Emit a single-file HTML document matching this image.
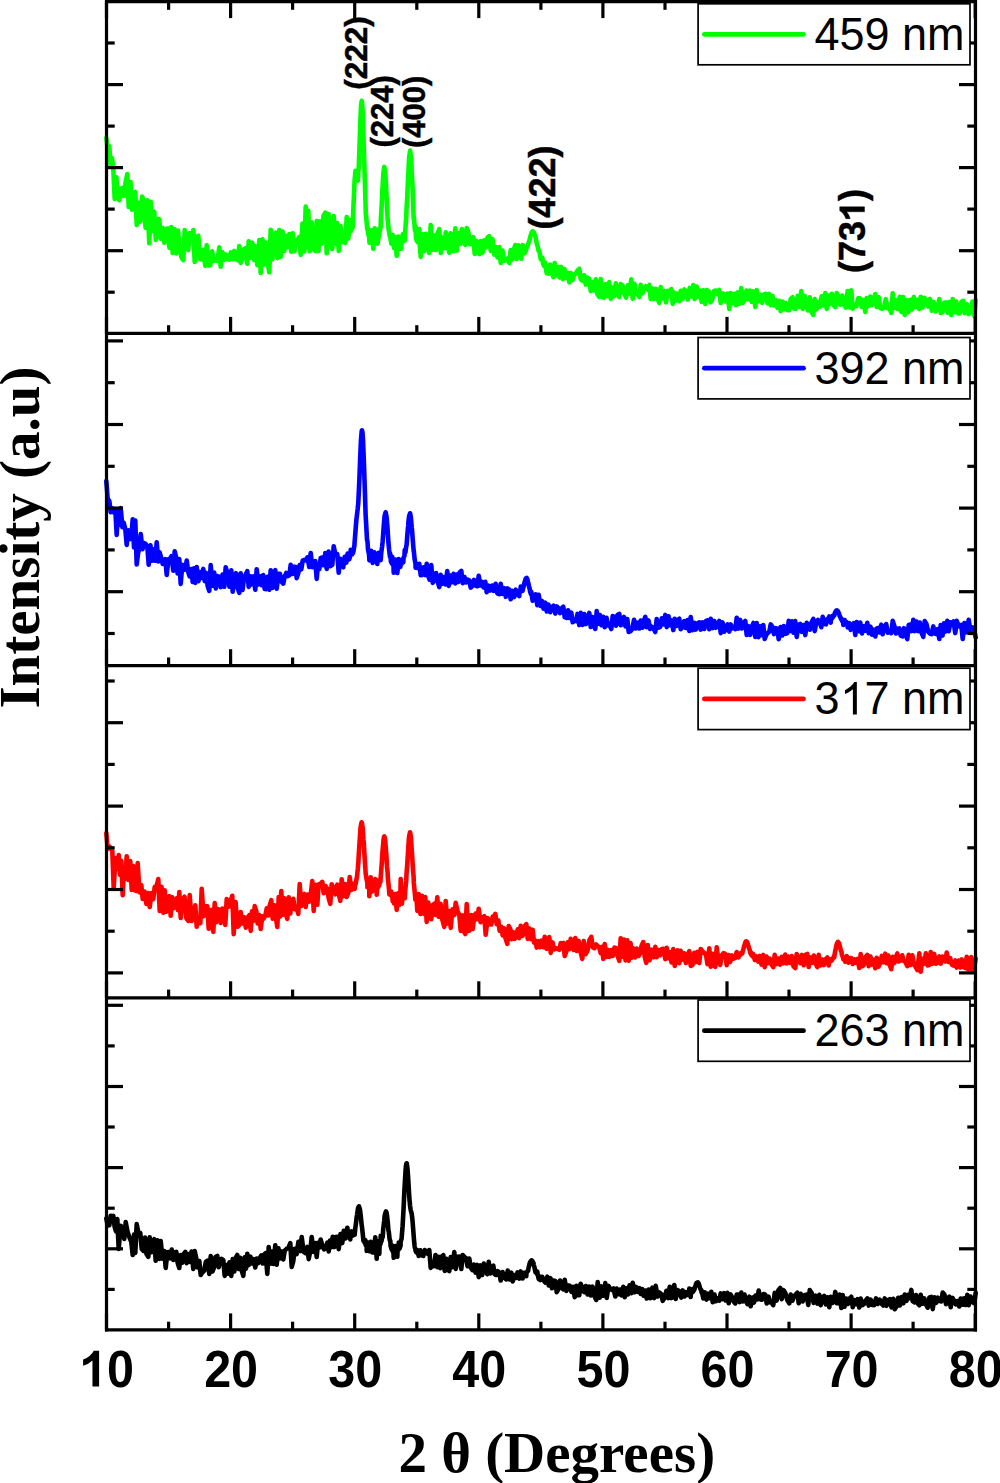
<!DOCTYPE html>
<html><head><meta charset="utf-8"><style>
html,body{margin:0;padding:0;background:#fff;width:1000px;height:1483px;overflow:hidden}
svg{display:block}
.leg{font-family:"Liberation Sans",sans-serif;font-size:45px;fill:#000}
.pl{font-family:"Liberation Sans",sans-serif;font-weight:bold;font-size:31px;fill:#000;stroke:#000;stroke-width:0.45px}
.tl{font-family:"Liberation Sans",sans-serif;font-weight:bold;font-size:48.5px;fill:#000}
.ti{font-family:"Liberation Serif",serif;font-weight:bold;font-size:57px;fill:#000}
</style></head><body>
<svg width="1000" height="1483" viewBox="0 0 1000 1483">
<rect width="1000" height="1483" fill="#fff"/>
<g fill="none" stroke-width="4.6" stroke-linejoin="round" stroke-linecap="round">
<path d="M106.3,137.9 L107.7,149.1 L109.3,146.2 L110.7,166.8 L112.0,158.0 L113.3,169.0 L114.7,199.0 L116.4,177.2 L117.7,195.9 L119.3,200.1 L120.7,188.9 L122.5,188.0 L124.0,196.0 L125.5,182.8 L127.3,174.0 L128.7,207.0 L130.5,182.0 L132.0,209.7 L133.5,193.3 L135.3,192.0 L136.7,225.0 L138.6,202.7 L140.3,221.7 L142.1,196.5 L143.9,201.1 L145.6,227.8 L147.4,200.3 L149.3,243.3 L150.7,201.7 L152.5,231.0 L154.2,211.5 L155.8,239.9 L157.5,218.9 L159.3,219.2 L160.7,238.8 L162.6,227.7 L164.3,242.7 L166.0,229.0 L167.7,228.3 L169.4,247.8 L171.3,227.1 L172.7,252.9 L174.6,229.4 L176.3,253.4 L178.0,230.5 L179.7,248.3 L181.4,257.0 L183.3,260.0 L184.7,230.0 L186.5,235.7 L188.2,250.1 L189.8,233.1 L191.5,237.9 L193.3,230.0 L194.7,262.0 L196.6,237.0 L198.3,235.8 L200.0,259.1 L201.7,259.5 L203.4,249.8 L205.3,265.8 L206.7,245.2 L208.6,265.4 L210.3,265.3 L212.1,251.4 L213.9,260.8 L215.6,260.0 L217.4,260.8 L219.3,247.2 L220.7,266.8 L222.5,252.4 L224.2,259.7 L225.8,254.5 L227.5,259.3 L229.3,259.6 L230.7,252.4 L232.5,259.2 L234.2,250.9 L235.8,259.0 L237.5,260.2 L239.3,246.1 L240.7,262.9 L242.5,258.9 L244.0,249.2 L245.5,248.2 L247.3,263.8 L248.7,241.2 L250.6,257.7 L252.3,242.9 L254.0,259.9 L255.7,246.3 L257.4,265.2 L259.3,240.0 L260.7,273.0 L262.5,239.4 L264.2,264.5 L265.8,242.5 L267.5,261.3 L269.3,272.3 L270.7,229.7 L272.5,259.2 L274.2,235.2 L275.8,232.6 L277.5,258.2 L279.3,230.1 L280.7,256.9 L282.6,231.5 L284.3,250.9 L286.0,235.7 L287.7,247.1 L289.4,234.0 L291.3,251.8 L292.7,233.2 L294.5,251.3 L296.0,240.6 L297.5,239.7 L299.3,237.1 L300.7,254.9 L302.5,223.5 L304.3,251.4 L305.7,206.6 L307.0,247.3 L308.3,210.7 L309.7,251.3 L311.6,222.3 L313.4,249.2 L315.3,251.0 L316.7,221.0 L318.5,251.2 L320.2,221.3 L321.8,243.6 L323.5,215.6 L325.3,212.7 L326.7,253.3 L328.6,214.1 L330.4,242.6 L332.3,249.0 L333.7,216.0 L335.5,243.4 L337.3,223.1 L338.7,250.9 L340.5,226.0 L342.0,242.1 L343.5,238.8 L345.3,242.9 L346.7,217.1 L348.3,238.5 L349.1,231.3 L349.6,220.4 L349.9,231.5 L350.7,231.3 L351.3,220.1 L351.5,229.7 L352.3,224.5 L352.5,222.4 L352.7,227.5 L353.1,213.5 L353.4,207.3 L353.9,196.7 L354.3,186.9 L354.6,180.4 L354.7,179.7 L355.3,172.2 L355.5,170.7 L356.2,172.1 L356.3,172.9 L356.5,173.8 L357.1,179.8 L357.1,179.8 L357.9,180.6 L358.0,179.7 L358.3,171.2 L358.7,168.9 L358.9,163.1 L359.5,146.9 L359.9,135.6 L360.2,123.9 L360.3,122.5 L360.8,110.6 L361.1,105.0 L361.7,100.8 L361.9,101.3 L362.1,102.7 L362.6,111.4 L363.5,138.1 L363.9,149.8 L364.5,170.5 L365.4,198.8 L365.8,213.4 L366.3,218.2 L367.2,229.1 L367.6,227.6 L368.1,234.2 L369.1,236.3 L369.5,242.8 L370.0,237.2 L370.9,237.6 L371.4,230.2 L373.3,248.8 L374.7,228.2 L375.5,239.1 L376.3,231.8 L376.4,239.4 L377.3,239.4 L377.6,243.6 L378.1,238.8 L379.0,236.5 L379.3,228.6 L379.9,231.0 L380.7,226.7 L380.8,220.4 L381.7,205.0 L382.5,187.3 L382.6,186.2 L383.4,172.7 L384.3,166.9 L384.3,166.9 L385.2,172.4 L386.0,184.6 L386.1,186.8 L386.9,204.3 L387.7,220.6 L387.8,219.6 L388.7,230.0 L389.4,233.0 L389.6,235.7 L390.5,238.2 L391.3,243.7 L391.3,239.1 L392.2,239.8 L392.7,234.7 L393.1,241.4 L394.0,247.9 L395.3,237.2 L396.7,255.8 L398.3,236.6 L399.6,248.9 L400.5,243.1 L401.3,248.8 L401.5,242.3 L402.4,241.5 L402.7,234.4 L403.4,240.3 L404.3,237.0 L404.6,240.9 L405.3,229.8 L406.3,216.7 L406.4,211.6 L407.2,197.6 L408.2,175.6 L408.3,174.6 L409.1,157.6 L410.1,150.6 L410.1,150.6 L411.1,157.7 L411.9,175.5 L412.0,175.9 L413.0,197.9 L413.7,219.2 L413.9,217.1 L414.9,230.3 L415.6,226.5 L415.9,237.6 L416.8,241.0 L417.4,238.0 L417.8,242.3 L418.7,242.8 L419.3,229.1 L419.7,243.0 L420.7,256.9 L422.5,234.3 L424.2,251.3 L425.8,233.9 L427.5,245.1 L429.3,252.9 L430.7,225.1 L432.5,249.6 L434.2,235.6 L435.8,250.1 L437.5,233.4 L439.3,229.1 L440.7,252.9 L442.5,237.5 L444.2,248.3 L445.8,232.4 L447.5,245.8 L449.3,252.8 L450.7,233.2 L452.3,238.1 L453.6,251.3 L455.3,228.2 L456.7,250.8 L458.5,233.1 L460.2,244.0 L461.8,229.0 L463.5,240.5 L465.3,244.9 L466.7,228.1 L468.5,233.1 L470.0,244.2 L471.5,239.7 L473.3,237.1 L474.7,253.9 L476.3,240.7 L477.6,253.0 L479.3,254.0 L480.7,241.0 L482.5,252.8 L484.2,240.4 L485.8,247.4 L487.5,237.5 L489.3,236.1 L490.7,250.9 L492.5,239.1 L494.2,254.6 L495.8,247.0 L497.5,257.4 L499.3,247.1 L500.7,262.9 L502.5,250.5 L504.2,260.8 L505.8,260.3 L507.5,258.4 L509.3,263.0 L510.7,250.0 L512.4,259.4 L513.6,250.5 L515.3,245.0 L516.7,259.0 L518.4,245.3 L519.0,252.0 L519.7,256.9 L520.4,252.0 L521.3,258.8 L521.8,251.9 L522.7,245.0 L523.2,251.9 L524.6,251.5 L524.6,253.4 L526.0,250.0 L526.4,247.5 L527.4,247.0 L528.3,243.5 L528.8,242.4 L530.1,237.9 L530.2,237.0 L531.6,232.7 L531.9,232.0 L533.0,231.3 L533.7,232.1 L534.4,233.6 L535.6,237.3 L535.8,238.9 L537.2,245.2 L537.4,245.1 L538.6,250.8 L539.3,250.6 L540.0,254.7 L540.7,259.1 L541.4,259.0 L542.4,257.8 L542.8,262.2 L543.7,265.6 L544.2,264.9 L545.3,262.8 L545.6,267.3 L546.7,273.2 L547.0,268.2 L548.5,273.7 L550.0,264.5 L551.5,272.4 L553.3,277.0 L554.7,263.0 L556.5,275.4 L558.0,267.1 L559.5,277.4 L561.3,266.9 L562.7,279.1 L564.5,269.1 L566.0,278.0 L567.5,272.8 L569.3,282.3 L570.7,272.7 L572.5,280.2 L574.2,274.4 L575.8,273.8 L577.5,270.5 L579.3,268.8 L580.7,279.2 L582.5,280.9 L584.2,275.2 L585.8,284.6 L587.5,277.7 L589.3,278.9 L590.7,291.1 L592.5,282.1 L594.2,290.6 L595.8,279.2 L597.5,294.4 L599.3,296.9 L600.7,279.1 L602.5,297.0 L604.2,297.6 L605.8,284.0 L607.5,296.1 L609.3,282.1 L610.7,298.9 L612.5,287.6 L614.2,296.2 L615.8,283.3 L617.5,294.1 L619.3,297.0 L620.7,284.0 L622.6,285.7 L624.3,293.8 L626.0,297.7 L627.7,285.3 L629.4,293.4 L631.3,279.2 L632.7,298.8 L634.5,283.7 L636.0,294.3 L637.5,293.4 L639.3,297.1 L640.7,284.9 L642.5,293.3 L644.2,288.5 L645.8,286.3 L647.5,289.5 L649.3,285.0 L650.7,299.0 L652.5,288.4 L654.2,299.1 L655.8,288.8 L657.5,298.6 L659.3,302.9 L660.7,287.1 L662.6,298.5 L664.3,290.9 L666.0,302.3 L667.7,290.7 L669.4,292.9 L671.3,289.1 L672.7,303.9 L674.5,292.5 L676.0,300.6 L677.5,293.8 L679.3,301.2 L680.7,290.8 L682.6,299.1 L684.4,289.4 L686.1,291.5 L687.9,299.6 L689.7,287.9 L691.4,296.4 L693.3,285.0 L694.7,299.0 L696.6,286.5 L698.3,296.7 L700.0,290.5 L701.7,302.0 L703.4,290.4 L705.3,304.0 L706.7,290.0 L708.6,291.2 L710.4,302.3 L712.1,300.1 L713.9,290.9 L715.7,290.5 L717.4,294.2 L719.3,290.0 L720.7,303.0 L722.5,293.4 L724.2,294.2 L725.8,301.4 L727.5,293.5 L729.3,308.9 L730.7,293.1 L732.6,303.1 L734.3,293.8 L736.0,305.3 L737.7,292.2 L739.4,303.8 L741.3,288.1 L742.7,302.9 L744.6,299.1 L746.4,290.5 L748.1,299.3 L749.9,290.6 L751.7,301.8 L753.4,291.2 L755.3,306.9 L756.7,290.1 L758.6,301.5 L760.4,294.8 L762.1,302.7 L763.9,294.4 L765.7,293.9 L767.4,303.2 L769.3,293.9 L770.7,305.1 L772.5,296.1 L774.2,305.5 L775.8,300.0 L777.5,307.8 L779.3,300.8 L780.7,311.2 L782.5,301.5 L784.2,309.3 L785.8,303.0 L787.5,310.2 L789.3,310.1 L790.7,298.9 L792.6,297.3 L794.3,308.8 L796.0,309.0 L797.7,295.7 L799.4,306.7 L801.3,291.1 L802.7,308.9 L804.6,295.9 L806.3,305.6 L808.0,310.4 L809.7,297.3 L811.4,311.5 L813.3,314.9 L814.7,299.1 L816.6,309.3 L818.3,302.1 L820.0,306.7 L821.7,296.2 L823.4,305.4 L825.3,293.1 L826.7,308.9 L828.5,295.5 L830.2,303.9 L831.8,293.7 L833.5,304.9 L835.3,307.0 L836.7,293.0 L838.6,296.5 L840.4,304.7 L842.2,295.5 L844.0,304.3 L845.8,307.6 L847.6,291.1 L849.4,307.5 L851.3,290.2 L852.7,308.8 L854.6,304.9 L856.4,306.1 L858.1,298.4 L859.9,298.3 L861.7,306.8 L863.4,299.8 L865.3,312.0 L866.7,298.0 L868.5,306.1 L870.2,296.6 L871.8,305.1 L873.5,299.3 L875.3,294.0 L876.7,307.0 L878.6,297.0 L880.4,308.1 L882.2,308.8 L884.0,307.6 L885.8,299.2 L887.6,308.3 L889.4,308.2 L891.3,312.8 L892.7,293.2 L894.6,308.0 L896.3,300.2 L898.0,309.2 L899.7,296.8 L901.4,311.9 L903.3,297.1 L904.7,314.9 L906.6,300.4 L908.4,312.2 L910.2,299.8 L912.0,309.4 L913.8,297.0 L915.6,307.3 L917.4,299.8 L919.3,309.1 L920.7,296.9 L922.6,307.5 L924.5,297.9 L926.3,300.4 L928.2,306.6 L930.0,298.9 L931.8,310.7 L933.7,302.1 L935.5,311.2 L937.4,308.4 L939.3,299.0 L940.7,313.0 L942.6,312.2 L944.3,302.7 L946.0,302.4 L947.7,312.7 L949.4,301.9 L951.3,314.9 L952.7,299.1 L954.6,312.1 L956.3,301.6 L958.0,313.4 L959.7,313.4 L961.4,301.8 L963.3,300.9 L964.7,313.1 L966.7,304.0 L968.6,314.0 L970.5,311.1 L972.4,301.5 L974.3,315.9 L975.7,300.1" stroke="#00ff00"/>
<path d="M106.3,481.1 L107.7,498.9 L109.3,500.9 L110.7,512.1 L112.4,508.3 L113.7,512.3 L115.3,509.1 L116.7,534.9 L118.0,510.6 L119.3,524.9 L120.7,508.1 L122.4,527.3 L123.7,522.8 L125.3,529.1 L126.7,544.9 L128.3,530.4 L129.7,539.1 L131.3,538.8 L132.7,519.2 L134.0,547.5 L135.3,520.6 L136.7,564.4 L138.0,553.4 L139.3,548.9 L140.7,534.1 L142.5,549.3 L144.0,543.0 L145.5,543.8 L147.3,546.2 L148.7,564.8 L150.5,545.4 L152.0,560.8 L153.5,549.2 L155.3,560.8 L156.7,542.2 L158.3,561.5 L159.6,552.4 L161.3,558.1 L162.7,563.9 L164.0,560.8 L165.3,559.1 L166.7,574.9 L168.5,559.1 L170.0,558.6 L171.5,556.1 L173.3,570.8 L174.7,551.2 L176.3,558.1 L177.6,573.5 L179.3,559.1 L180.7,583.9 L182.3,564.8 L183.6,570.0 L185.3,569.4 L186.7,560.6 L188.3,572.3 L189.6,576.4 L191.3,569.0 L192.7,582.0 L194.0,568.2 L195.3,582.9 L196.7,567.1 L198.5,581.1 L200.0,572.0 L201.5,577.8 L203.3,568.9 L204.7,581.1 L206.3,572.9 L207.6,585.8 L209.3,590.9 L210.7,565.1 L212.5,585.7 L214.2,572.6 L215.8,588.4 L217.5,576.0 L219.3,576.8 L220.7,587.2 L222.5,574.6 L224.3,586.8 L225.7,567.2 L227.6,573.8 L229.4,586.7 L231.3,570.2 L232.7,591.8 L234.5,576.3 L236.0,573.2 L237.5,587.5 L239.3,592.8 L240.7,573.2 L242.5,589.9 L244.0,578.0 L245.5,575.0 L247.3,571.1 L248.7,586.9 L250.5,576.3 L252.0,584.3 L253.5,576.4 L255.3,589.8 L256.7,569.2 L258.5,584.4 L260.0,576.3 L261.5,585.2 L263.3,575.0 L264.7,589.0 L266.3,589.1 L267.6,576.9 L269.3,589.8 L270.7,570.2 L272.3,587.9 L273.6,575.6 L275.3,570.2 L276.7,588.8 L278.5,573.8 L280.0,573.9 L281.5,581.7 L283.3,583.6 L284.7,576.4 L286.3,573.0 L287.6,576.1 L289.3,575.2 L290.7,564.8 L292.3,574.0 L293.6,566.8 L295.3,566.9 L296.7,578.1 L298.3,573.1 L299.6,565.1 L301.3,569.4 L302.7,560.6 L304.5,559.7 L306.0,560.6 L307.5,557.3 L309.3,567.0 L310.7,553.0 L312.3,567.3 L313.6,562.0 L315.3,561.1 L316.7,578.9 L318.0,564.6 L319.3,569.1 L320.7,557.9 L322.3,557.5 L323.6,565.3 L325.3,553.1 L326.7,568.9 L328.6,551.6 L330.4,566.1 L332.3,564.8 L333.7,546.2 L335.5,555.1 L337.3,554.2 L338.7,572.8 L340.3,558.7 L341.6,565.0 L343.3,567.2 L344.7,556.8 L346.3,562.6 L347.6,553.6 L349.3,559.3 L350.5,554.5 L350.7,549.7 L351.3,554.6 L352.0,554.4 L352.1,554.4 L352.6,551.7 L352.9,553.3 L353.0,553.0 L353.7,550.0 L354.0,548.0 L354.5,544.9 L354.5,543.4 L355.0,537.5 L355.3,533.5 L356.0,524.5 L356.1,523.4 L356.3,520.6 L356.9,515.5 L357.0,514.7 L357.7,508.7 L358.0,505.4 L358.2,504.3 L358.5,498.1 L359.0,488.2 L359.3,481.1 L360.0,462.8 L360.1,461.5 L360.1,460.2 L360.9,441.4 L361.0,439.6 L361.7,431.1 L361.9,430.3 L362.0,430.3 L362.5,432.8 L363.0,440.1 L363.8,459.6 L364.0,464.9 L365.0,495.1 L365.6,514.3 L366.0,521.4 L367.0,539.4 L367.5,541.7 L368.0,549.5 L369.0,554.2 L369.4,560.4 L370.0,556.0 L371.0,556.7 L371.3,550.9 L372.0,557.0 L372.7,563.0 L374.3,552.2 L375.6,560.4 L376.8,558.2 L377.3,564.0 L377.7,558.3 L378.6,558.4 L378.7,552.7 L379.4,558.1 L380.3,556.7 L380.7,560.2 L381.2,553.2 L382.1,546.5 L382.6,541.9 L383.0,536.6 L383.8,525.1 L384.5,516.9 L384.7,515.7 L385.6,512.3 L386.5,516.2 L386.5,516.5 L387.4,526.6 L388.2,538.8 L388.4,542.5 L389.1,549.6 L390.0,557.0 L390.3,553.9 L390.9,561.3 L391.8,563.5 L392.3,556.9 L392.6,564.5 L393.5,565.0 L393.7,572.8 L394.4,565.3 L395.5,559.6 L397.3,573.0 L398.7,559.0 L400.3,566.9 L400.8,562.3 L401.6,563.8 L401.7,561.0 L402.6,559.5 L403.3,562.3 L403.6,557.6 L404.5,555.6 L404.7,550.1 L405.4,552.4 L406.3,546.0 L406.6,545.1 L407.2,536.5 L408.2,525.4 L408.4,522.1 L409.1,516.4 L410.0,513.3 L410.2,513.6 L410.9,517.7 L411.8,528.0 L412.0,529.5 L412.8,540.4 L413.7,551.3 L413.8,550.6 L414.6,559.0 L415.5,563.5 L415.6,567.8 L416.4,566.0 L417.4,567.3 L417.4,565.7 L418.3,568.2 L419.2,568.9 L419.3,563.9 L420.7,575.1 L422.3,574.9 L423.6,567.2 L425.3,575.1 L426.7,563.9 L428.3,576.2 L429.6,579.6 L431.3,565.1 L432.7,582.9 L434.5,579.9 L436.0,573.0 L437.5,581.2 L439.3,587.1 L440.7,574.9 L442.5,583.8 L444.0,577.0 L445.5,584.4 L447.3,571.1 L448.7,585.9 L450.5,575.6 L452.0,582.3 L453.5,573.8 L455.3,583.4 L456.7,574.6 L458.3,582.0 L459.6,572.6 L461.3,570.9 L462.7,583.1 L464.5,577.0 L466.0,582.5 L467.5,579.6 L469.3,580.4 L470.7,587.6 L472.5,585.6 L474.0,579.9 L475.5,585.8 L477.3,586.2 L478.7,575.8 L480.5,585.5 L482.0,581.8 L483.5,587.4 L485.3,581.8 L486.7,592.2 L488.6,585.6 L490.3,590.5 L492.1,585.5 L493.9,590.9 L495.6,583.8 L497.4,593.3 L499.3,594.2 L500.7,583.8 L502.5,593.8 L504.2,588.2 L505.8,596.8 L507.5,588.4 L509.3,589.7 L510.7,599.3 L512.5,590.9 L514.2,597.1 L515.8,589.7 L517.5,594.7 L517.8,592.2 L518.7,591.9 L519.3,596.1 L519.6,591.5 L520.4,591.4 L520.7,586.6 L521.3,591.2 L522.2,590.3 L522.6,590.9 L523.1,588.3 L524.0,585.2 L524.3,583.2 L524.8,581.6 L525.7,578.8 L526.0,578.3 L526.6,577.9 L527.5,579.6 L527.7,580.8 L528.4,583.3 L529.2,587.6 L529.4,587.4 L530.1,591.5 L531.0,594.3 L531.3,591.7 L531.9,596.0 L532.7,600.8 L532.8,597.1 L533.6,597.7 L534.4,594.8 L534.5,598.2 L535.4,598.7 L535.7,594.2 L537.3,605.2 L538.7,594.8 L540.5,605.9 L542.0,601.0 L543.5,608.6 L545.3,602.6 L546.7,611.4 L548.5,604.7 L550.2,612.2 L551.8,607.2 L553.5,605.7 L555.3,613.6 L556.7,606.4 L558.5,608.4 L560.0,613.1 L561.5,608.4 L563.3,606.8 L564.7,617.2 L566.5,617.9 L568.0,610.3 L569.5,618.0 L571.3,612.7 L572.7,622.3 L574.5,620.8 L576.0,621.1 L577.5,613.9 L579.3,625.1 L580.7,612.9 L582.5,625.0 L584.2,614.0 L585.8,624.1 L587.5,617.1 L589.3,613.0 L590.7,627.0 L592.4,616.9 L593.7,624.5 L595.3,628.9 L596.7,611.1 L598.5,623.6 L600.0,615.1 L601.5,625.3 L603.3,616.8 L604.7,627.2 L606.5,617.8 L608.0,625.3 L609.5,625.0 L611.3,629.0 L612.7,616.0 L614.5,617.0 L616.0,625.7 L617.5,615.0 L619.3,613.9 L620.7,625.1 L622.5,624.2 L624.0,616.9 L625.5,626.5 L627.3,619.0 L628.7,632.0 L630.6,631.1 L632.3,628.9 L634.0,619.8 L635.7,628.5 L637.4,622.7 L639.3,628.5 L640.7,620.5 L642.4,627.7 L643.7,621.0 L645.3,616.8 L646.7,627.2 L648.5,620.4 L650.2,629.0 L651.8,626.8 L653.5,628.2 L655.3,632.0 L656.7,619.0 L658.5,627.7 L660.2,626.9 L661.8,618.3 L663.5,624.4 L665.3,614.9 L666.7,627.1 L668.5,616.2 L670.0,625.3 L671.5,620.4 L673.3,630.1 L674.7,618.9 L676.4,626.0 L677.7,620.1 L679.3,618.8 L680.7,629.2 L682.5,627.4 L684.2,621.2 L685.8,627.9 L687.5,620.0 L689.3,631.0 L690.7,617.0 L692.5,630.3 L694.2,622.8 L695.8,629.6 L697.5,623.3 L699.3,622.4 L700.7,629.6 L702.5,622.4 L704.2,629.0 L705.8,621.1 L707.5,620.3 L709.3,629.2 L710.7,618.8 L712.5,628.1 L714.2,621.1 L715.8,627.8 L717.5,624.0 L719.3,620.9 L720.7,633.1 L722.5,622.4 L724.2,631.7 L725.8,629.1 L727.5,624.4 L729.3,631.6 L730.7,624.4 L732.4,628.4 L733.7,628.0 L735.3,629.1 L736.7,617.9 L738.5,628.6 L740.2,619.9 L741.8,628.4 L743.5,623.3 L745.3,621.0 L746.7,635.0 L748.5,626.2 L750.2,634.8 L751.8,627.0 L753.5,623.0 L755.3,637.0 L756.7,623.0 L758.5,637.2 L760.0,626.4 L761.5,635.1 L763.3,625.0 L764.7,639.0 L766.4,634.5 L767.7,633.2 L769.3,631.6 L770.7,624.4 L772.5,627.1 L774.0,634.1 L775.5,628.2 L777.3,628.8 L778.7,639.2 L780.5,627.0 L782.2,635.5 L783.8,626.1 L785.5,633.8 L787.3,633.1 L788.7,620.9 L790.5,630.9 L792.0,621.2 L793.5,632.8 L795.3,621.1 L796.7,636.9 L798.5,625.3 L800.2,623.9 L801.8,631.8 L803.5,625.0 L805.3,635.1 L806.7,622.9 L808.5,625.5 L810.0,629.7 L811.5,622.6 L813.3,618.9 L814.7,631.1 L816.5,621.8 L818.0,619.9 L819.5,621.2 L821.3,627.2 L822.7,616.8 L824.5,624.0 L826.0,624.4 L826.6,620.8 L827.5,618.9 L827.6,620.6 L828.7,620.3 L829.3,616.4 L829.7,619.8 L830.7,622.6 L830.8,619.5 L831.8,618.9 L832.6,615.8 L832.8,617.5 L833.9,615.4 L834.4,615.3 L834.9,612.9 L836.0,610.9 L836.1,610.7 L837.0,610.3 L837.9,611.2 L838.0,611.4 L839.1,613.8 L839.7,616.2 L840.1,616.7 L841.2,619.3 L841.4,618.5 L842.2,621.1 L843.2,622.2 L843.3,625.0 L844.3,622.9 L844.7,620.1 L845.3,623.7 L846.4,622.0 L846.4,624.4 L847.4,625.0 L847.7,627.4 L849.3,623.2 L850.7,629.8 L852.4,625.3 L853.7,623.2 L855.3,635.0 L856.7,622.0 L858.6,631.2 L860.3,622.5 L862.0,633.4 L863.7,626.3 L865.4,630.7 L867.3,622.8 L868.7,633.2 L870.5,626.7 L872.0,634.7 L873.5,629.6 L875.3,636.5 L876.7,628.5 L878.4,628.0 L879.7,632.5 L881.3,624.7 L882.7,634.3 L884.5,627.0 L886.2,624.1 L887.8,632.7 L889.5,631.2 L891.3,633.1 L892.7,620.9 L894.5,626.5 L896.0,633.5 L897.5,628.8 L899.3,628.4 L900.7,635.6 L902.5,636.3 L904.0,628.2 L905.5,634.6 L907.3,639.0 L908.7,625.0 L910.4,624.5 L911.7,631.1 L913.3,619.9 L914.7,631.1 L916.5,621.6 L918.2,631.2 L919.8,622.6 L921.5,632.6 L923.3,636.9 L924.7,621.1 L926.5,624.1 L928.2,631.7 L929.8,633.5 L931.5,634.2 L933.3,626.4 L934.7,633.6 L936.4,634.1 L937.7,629.1 L939.3,639.0 L940.7,625.0 L942.5,635.6 L944.0,623.2 L945.5,631.6 L947.3,620.8 L948.7,631.2 L950.5,622.3 L952.0,623.3 L953.5,621.5 L955.3,633.1 L956.7,620.9 L958.4,625.3 L959.7,626.6 L961.3,625.0 L962.7,639.0 L964.4,623.1 L965.7,632.4 L967.3,631.1 L968.7,619.9 L970.6,631.9 L972.4,627.5 L974.3,630.4 L975.7,637.6" stroke="#0000ff"/>
<path d="M106.3,833.1 L107.7,848.9 L109.4,846.5 L110.7,848.1 L112.3,850.8 L113.7,888.2 L115.5,858.0 L117.3,869.0 L118.7,855.0 L120.0,874.9 L121.3,860.9 L122.7,895.1 L124.0,867.4 L125.3,878.8 L126.7,856.2 L128.5,880.0 L130.3,861.1 L131.7,889.9 L133.3,866.0 L134.6,890.1 L136.3,890.9 L137.7,863.1 L139.5,892.4 L141.3,885.0 L142.7,899.0 L144.6,891.5 L146.4,903.9 L148.3,893.0 L149.7,907.0 L151.5,893.1 L153.3,899.1 L154.7,886.9 L156.5,886.2 L158.3,879.0 L159.7,911.0 L161.5,886.7 L163.3,912.8 L164.7,890.2 L166.3,911.8 L167.6,900.4 L169.3,896.2 L170.7,915.8 L172.3,897.4 L173.6,908.1 L175.3,905.6 L176.7,898.4 L178.0,910.3 L179.3,892.1 L180.7,917.9 L182.6,900.0 L184.5,896.7 L186.4,918.4 L188.3,920.9 L189.7,895.1 L191.6,921.0 L193.4,917.3 L195.3,905.2 L196.7,926.8 L198.5,919.0 L200.3,923.1 L201.7,888.9 L203.6,916.3 L205.4,906.4 L207.3,906.2 L208.7,928.8 L210.3,923.7 L211.6,909.8 L213.3,931.9 L214.7,903.1 L216.3,922.1 L217.6,909.0 L219.3,910.0 L220.7,923.0 L222.3,908.5 L223.6,909.2 L225.3,924.9 L226.7,899.1 L228.6,906.7 L230.4,901.5 L232.3,895.8 L233.7,934.2 L235.6,902.1 L237.4,926.8 L239.3,925.0 L240.7,912.0 L242.5,923.5 L244.2,917.3 L245.8,927.7 L247.5,918.0 L249.3,915.1 L250.7,930.9 L252.0,911.4 L253.3,920.9 L254.7,906.1 L256.3,911.1 L257.6,923.5 L259.3,915.0 L260.7,929.0 L262.3,916.2 L263.6,918.7 L265.3,915.6 L266.7,908.4 L268.3,915.5 L269.6,905.8 L271.3,900.2 L272.7,918.8 L274.3,905.4 L275.6,916.0 L277.3,927.0 L278.7,897.0 L280.0,916.6 L281.3,891.1 L282.7,914.9 L284.3,898.4 L285.6,913.6 L287.3,918.8 L288.7,897.2 L290.3,913.5 L291.6,901.4 L293.3,898.8 L294.7,909.2 L296.5,907.3 L298.3,914.0 L299.7,884.0 L301.3,905.9 L302.6,896.3 L304.3,894.0 L305.7,907.0 L307.5,894.5 L309.3,901.6 L310.7,894.4 L312.3,881.0 L313.7,911.0 L315.5,884.9 L317.3,904.8 L318.7,884.2 L320.5,883.9 L322.3,881.9 L323.7,893.1 L325.5,886.0 L327.3,888.7 L328.7,898.3 L330.3,903.8 L331.7,884.2 L333.6,888.4 L335.4,894.3 L337.3,884.6 L338.7,893.4 L340.3,900.8 L341.7,879.2 L343.5,896.3 L345.3,884.0 L346.7,897.0 L348.3,892.9 L349.7,877.1 L351.5,890.0 L352.0,886.2 L353.0,886.5 L353.3,883.9 L353.9,886.6 L354.7,888.8 L354.9,885.7 L355.8,883.4 L356.6,878.4 L356.8,878.2 L357.8,869.0 L358.4,861.8 L358.7,855.5 L359.7,840.0 L360.2,832.2 L360.6,827.3 L361.6,822.3 L362.0,823.2 L362.6,827.3 L363.5,840.0 L363.8,843.0 L364.5,855.5 L365.4,869.0 L365.6,873.1 L366.4,878.2 L367.4,883.4 L367.4,887.2 L368.3,885.7 L369.3,886.6 L369.3,896.3 L370.2,886.9 L370.7,877.2 L371.2,887.0 L372.3,891.5 L373.6,883.0 L375.3,879.1 L375.6,887.0 L376.5,887.2 L376.7,894.7 L377.4,887.5 L378.2,887.2 L378.6,880.3 L379.1,885.7 L380.0,881.8 L380.4,881.9 L380.9,874.4 L381.8,863.3 L382.2,855.0 L382.6,850.5 L383.5,840.1 L384.0,836.9 L384.4,836.3 L385.3,841.1 L385.8,848.1 L386.2,852.6 L387.0,866.4 L387.6,872.3 L387.9,878.6 L388.8,887.1 L389.4,894.5 L389.7,892.0 L390.6,894.5 L391.3,891.4 L391.4,895.8 L392.3,896.9 L392.7,901.2 L393.2,898.1 L394.0,903.5 L395.3,894.1 L396.7,909.9 L398.0,893.4 L399.3,904.9 L400.4,892.7 L400.7,879.1 L401.4,894.4 L402.0,903.6 L402.3,895.9 L403.3,896.8 L403.3,892.7 L404.2,895.7 L404.7,898.3 L405.2,890.5 L406.2,880.9 L406.6,872.7 L407.1,866.8 L408.1,850.6 L408.3,846.9 L409.0,837.3 L410.0,832.3 L410.1,832.4 L411.0,837.8 L411.9,852.3 L411.9,851.6 L412.9,868.3 L413.6,876.4 L413.8,882.9 L414.8,892.9 L415.4,899.9 L415.8,898.6 L416.7,901.3 L417.3,910.9 L417.7,902.5 L418.6,903.4 L418.7,894.1 L419.6,904.3 L420.5,914.0 L422.0,895.9 L423.5,913.6 L425.3,897.1 L426.7,921.9 L428.3,902.5 L429.6,918.0 L431.3,919.0 L432.7,905.0 L434.3,903.7 L435.6,915.0 L437.3,897.2 L438.7,916.8 L440.6,903.8 L442.4,920.0 L444.3,926.9 L445.7,901.1 L447.5,923.5 L449.3,911.1 L450.7,927.9 L452.5,909.4 L454.3,915.1 L455.7,902.9 L457.5,910.8 L459.3,915.1 L460.7,930.9 L462.3,915.3 L463.6,930.4 L465.3,934.0 L466.7,904.0 L468.3,930.9 L469.6,930.6 L471.3,915.0 L472.7,929.0 L474.3,916.5 L475.6,913.7 L477.3,919.2 L478.7,908.8 L480.6,922.1 L482.4,918.0 L484.3,916.2 L485.7,934.8 L487.6,918.0 L489.4,924.2 L491.3,924.5 L492.7,916.5 L494.0,917.0 L495.3,913.8 L496.7,924.2 L498.3,920.3 L499.6,930.6 L501.3,926.6 L502.7,935.4 L504.3,928.4 L505.6,938.6 L507.3,943.9 L508.7,926.1 L510.3,929.1 L511.6,939.3 L513.3,932.2 L514.7,938.8 L516.4,936.0 L517.7,929.4 L519.3,938.1 L520.7,925.9 L522.6,935.9 L524.4,926.4 L526.3,924.1 L527.7,938.9 L529.5,928.4 L531.3,939.3 L532.7,929.7 L534.0,942.6 L535.3,940.4 L536.7,947.6 L538.5,941.2 L540.0,947.2 L541.5,940.7 L543.3,947.2 L544.7,936.8 L546.4,948.8 L547.7,947.0 L549.3,937.1 L550.7,952.9 L552.5,942.4 L554.2,949.4 L555.8,948.2 L557.5,948.9 L559.3,949.8 L560.7,943.2 L562.0,943.8 L563.3,943.0 L564.7,956.0 L566.4,951.2 L567.7,942.2 L569.3,949.2 L570.7,938.8 L572.4,947.9 L573.7,949.9 L575.3,938.0 L576.7,951.0 L578.6,940.9 L580.4,951.1 L582.3,958.9 L583.7,941.1 L585.6,954.3 L587.5,950.7 L589.4,940.2 L591.3,936.8 L592.7,947.2 L594.5,948.2 L596.0,944.5 L597.5,945.7 L599.3,947.9 L600.7,953.1 L602.0,946.8 L603.3,958.9 L604.7,944.1 L606.5,956.9 L608.0,949.9 L609.5,956.8 L611.3,950.1 L612.7,955.9 L614.5,947.6 L616.0,948.0 L617.5,955.6 L619.3,960.8 L620.7,938.2 L622.5,956.7 L624.0,939.6 L625.5,960.4 L627.3,940.2 L628.7,960.8 L630.5,943.1 L632.0,957.7 L633.5,948.4 L635.3,957.4 L636.7,948.6 L638.5,955.9 L640.0,953.7 L641.5,945.9 L643.3,942.1 L644.7,956.9 L646.3,962.9 L647.7,945.1 L649.6,960.3 L651.5,949.7 L653.4,957.3 L655.3,946.8 L656.7,957.2 L658.5,949.9 L660.2,955.2 L661.8,949.0 L663.5,948.8 L665.3,959.1 L666.7,947.9 L668.5,958.1 L670.0,952.2 L671.5,962.4 L673.3,949.1 L674.7,965.9 L676.4,953.3 L677.7,950.4 L679.3,963.1 L680.7,950.9 L682.5,959.6 L684.2,953.3 L685.8,963.0 L687.5,955.7 L689.3,951.1 L690.7,965.9 L692.5,965.0 L694.2,952.9 L695.8,962.1 L697.5,951.9 L699.3,963.0 L700.7,949.0 L702.5,951.4 L704.2,953.2 L705.8,953.7 L707.5,964.1 L709.3,948.2 L710.7,966.8 L712.4,953.7 L713.7,965.4 L715.3,966.8 L716.7,947.2 L718.5,960.6 L720.2,964.9 L721.8,955.2 L723.5,953.2 L725.3,953.9 L726.7,965.1 L728.5,955.0 L730.2,962.0 L731.8,955.4 L733.5,958.7 L735.3,957.9 L736.7,952.1 L736.8,955.1 L737.8,955.2 L738.6,957.3 L738.7,955.2 L739.7,955.1 L740.4,953.5 L740.6,954.7 L741.6,953.6 L742.3,953.3 L742.6,951.6 L743.5,948.6 L744.1,946.1 L744.5,945.2 L745.4,942.3 L745.9,941.5 L746.4,941.3 L747.4,942.5 L747.7,943.8 L748.3,945.6 L749.3,949.2 L749.6,949.5 L750.2,952.5 L751.2,954.7 L751.4,952.8 L752.2,956.0 L753.1,956.6 L753.3,954.0 L754.1,956.9 L754.7,959.9 L755.0,957.4 L756.0,957.8 L756.5,956.5 L758.2,961.6 L759.8,955.9 L761.5,964.6 L763.3,954.9 L764.7,967.1 L766.5,956.5 L768.2,963.1 L769.8,958.7 L771.5,964.4 L773.3,967.1 L774.7,954.9 L776.6,964.1 L778.3,958.5 L780.0,964.7 L781.7,956.8 L783.4,963.3 L785.3,954.6 L786.7,963.4 L788.5,956.6 L790.2,963.0 L791.8,956.0 L793.5,966.4 L795.3,968.0 L796.7,954.0 L798.6,958.6 L800.3,963.1 L802.0,954.9 L803.7,965.3 L805.4,954.9 L807.3,954.0 L808.7,967.0 L810.5,957.4 L812.2,962.8 L813.8,955.5 L815.5,963.3 L817.3,967.1 L818.7,954.9 L820.5,965.5 L822.2,959.5 L823.8,965.1 L825.5,959.4 L827.3,957.5 L828.4,961.4 L828.7,965.5 L829.4,961.3 L830.3,961.1 L830.6,959.2 L831.3,960.7 L832.2,959.9 L832.4,958.6 L833.2,958.3 L834.2,955.6 L834.3,957.2 L835.1,951.6 L836.1,947.2 L836.1,946.7 L837.0,943.4 L837.9,941.9 L838.0,941.9 L839.0,943.2 L839.7,945.6 L839.9,946.6 L840.9,950.8 L841.6,951.9 L841.8,954.5 L842.8,957.0 L843.4,959.4 L843.8,958.3 L844.7,958.8 L845.3,961.7 L845.7,958.9 L846.6,959.2 L846.7,956.1 L847.6,959.5 L848.4,962.7 L849.7,958.3 L851.3,958.1 L852.7,963.9 L854.5,959.4 L856.0,962.7 L857.5,958.8 L859.3,968.0 L860.7,954.0 L862.5,966.3 L864.0,964.4 L865.5,957.2 L867.3,954.9 L868.7,966.1 L870.5,956.6 L872.0,964.6 L873.5,959.8 L875.3,968.2 L876.7,957.8 L878.5,966.7 L880.2,962.9 L881.8,955.9 L883.5,962.3 L885.3,953.7 L886.7,963.3 L888.4,955.5 L889.7,964.9 L891.3,969.1 L892.7,956.9 L894.4,963.1 L895.7,957.4 L897.3,953.5 L898.7,961.5 L900.5,960.7 L902.2,955.3 L903.8,961.0 L905.5,962.0 L907.3,966.1 L908.7,954.9 L910.6,965.0 L912.3,955.3 L914.0,964.0 L915.7,967.1 L917.4,970.0 L919.3,953.2 L920.7,971.8 L922.5,958.7 L924.2,963.6 L925.8,953.3 L927.5,965.4 L929.3,965.0 L930.7,952.0 L932.5,963.8 L934.2,953.9 L935.8,963.7 L937.5,962.7 L939.3,956.4 L940.7,963.6 L942.4,956.5 L943.7,960.0 L945.3,961.4 L946.7,952.6 L948.5,961.9 L950.2,958.1 L951.8,964.5 L953.5,965.6 L955.3,960.4 L956.7,967.6 L958.5,960.6 L960.2,967.5 L961.8,959.4 L963.5,967.1 L965.3,968.1 L966.7,956.9 L968.4,969.4 L969.7,959.2 L971.3,957.1 L972.7,971.9 L974.3,967.4 L975.7,958.6" stroke="#ff0000"/>
<path d="M106.3,1218.4 L107.7,1225.6 L109.3,1225.3 L110.7,1215.7 L112.0,1217.6 L113.3,1215.9 L114.7,1227.1 L116.0,1231.4 L117.3,1219.0 L118.7,1249.0 L120.6,1225.7 L122.4,1227.2 L124.3,1238.9 L125.7,1222.1 L127.6,1232.0 L129.4,1237.3 L131.3,1242.0 L132.7,1255.0 L134.0,1234.6 L135.3,1252.9 L136.7,1224.1 L138.5,1233.5 L140.3,1233.1 L141.7,1248.9 L143.5,1250.9 L145.0,1237.6 L146.5,1254.0 L148.3,1256.8 L149.7,1237.2 L151.3,1252.2 L152.6,1242.1 L154.3,1239.2 L155.7,1260.8 L157.5,1240.4 L159.3,1258.9 L160.7,1241.1 L162.5,1258.7 L164.3,1251.1 L165.7,1267.9 L167.3,1252.3 L168.6,1252.0 L170.3,1258.4 L171.7,1249.6 L173.3,1260.0 L174.6,1252.2 L176.3,1251.9 L177.7,1263.1 L179.3,1268.0 L180.7,1255.0 L182.3,1262.7 L183.6,1254.1 L185.3,1251.9 L186.7,1263.1 L188.5,1254.2 L190.0,1261.8 L191.5,1251.6 L193.3,1268.9 L194.7,1251.1 L196.3,1258.5 L197.6,1267.4 L199.3,1261.0 L200.7,1275.0 L202.5,1272.3 L204.2,1270.6 L205.8,1261.9 L207.5,1260.7 L209.3,1273.9 L210.7,1256.1 L212.5,1271.5 L214.0,1267.4 L215.5,1256.9 L217.3,1255.9 L218.7,1267.1 L220.3,1260.3 L221.6,1258.9 L223.3,1260.1 L224.7,1275.9 L226.5,1265.0 L228.0,1273.7 L229.5,1262.3 L231.3,1275.9 L232.7,1259.1 L234.3,1271.5 L235.6,1258.2 L237.3,1255.0 L238.7,1269.0 L240.3,1257.8 L241.6,1270.2 L243.3,1275.8 L244.7,1257.2 L246.0,1268.6 L247.3,1253.9 L248.7,1265.1 L250.5,1256.7 L252.0,1263.5 L253.5,1259.2 L255.3,1267.4 L256.7,1258.6 L258.3,1263.2 L259.6,1258.2 L261.3,1255.5 L262.7,1263.5 L264.3,1254.4 L265.6,1253.2 L267.3,1273.9 L268.7,1247.1 L270.5,1263.8 L272.0,1251.6 L273.5,1263.9 L275.3,1245.2 L276.7,1264.8 L278.5,1248.3 L280.0,1258.5 L281.5,1251.4 L283.3,1259.4 L284.7,1250.6 L286.6,1248.8 L288.4,1248.3 L290.3,1243.1 L291.7,1266.9 L293.3,1261.1 L294.7,1248.9 L296.6,1254.1 L298.4,1241.9 L300.3,1251.0 L301.7,1237.0 L303.6,1251.9 L305.4,1253.1 L307.3,1246.9 L308.7,1259.1 L310.3,1251.0 L311.7,1237.0 L313.5,1252.0 L315.3,1243.0 L316.7,1257.0 L318.0,1242.7 L319.3,1247.5 L320.7,1239.5 L322.5,1246.1 L324.0,1249.3 L325.5,1248.3 L327.3,1242.6 L328.7,1251.4 L330.0,1240.5 L331.3,1247.2 L332.7,1236.8 L334.3,1247.1 L335.6,1237.1 L337.3,1236.9 L338.7,1249.1 L340.5,1234.1 L342.3,1243.1 L343.7,1230.9 L345.5,1238.4 L347.3,1227.7 L348.7,1237.3 L349.4,1233.8 L350.3,1239.5 L350.4,1234.6 L351.3,1235.3 L351.6,1231.2 L352.3,1235.7 L353.2,1235.3 L353.3,1231.3 L354.2,1233.4 L354.7,1234.7 L355.2,1229.0 L356.1,1222.4 L356.6,1217.4 L357.1,1214.6 L358.0,1208.4 L358.3,1207.5 L359.0,1206.3 L360.0,1209.6 L360.0,1209.7 L360.9,1217.2 L361.7,1225.4 L361.9,1226.2 L362.8,1234.2 L363.4,1240.9 L363.8,1239.8 L364.8,1243.2 L365.3,1240.0 L365.7,1245.1 L366.7,1245.9 L366.7,1250.9 L367.6,1246.2 L368.0,1242.5 L368.6,1246.3 L369.3,1251.3 L370.7,1241.7 L372.3,1252.4 L373.6,1252.4 L375.3,1237.2 L376.7,1258.8 L376.8,1247.6 L377.7,1247.1 L378.0,1241.5 L378.6,1246.5 L379.3,1254.0 L379.6,1245.5 L380.5,1244.1 L380.7,1235.7 L381.4,1241.6 L382.3,1236.7 L382.7,1237.1 L383.2,1229.3 L384.2,1220.7 L384.6,1216.2 L385.1,1213.8 L386.0,1211.3 L386.5,1212.5 L386.9,1214.6 L387.8,1222.4 L388.4,1230.2 L388.8,1231.8 L389.7,1240.0 L390.3,1240.8 L390.6,1245.8 L391.5,1249.2 L392.3,1245.4 L392.4,1251.0 L393.4,1251.6 L393.7,1257.8 L394.3,1251.4 L395.2,1251.1 L395.5,1246.0 L396.6,1250.5 L397.3,1256.8 L397.6,1250.0 L398.6,1249.6 L398.7,1242.6 L399.6,1248.5 L400.6,1245.5 L400.6,1241.7 L401.6,1238.6 L402.5,1227.0 L402.6,1226.2 L403.6,1208.0 L404.3,1192.4 L404.6,1187.1 L405.6,1169.9 L406.0,1165.7 L406.2,1164.6 L406.6,1163.3 L406.8,1163.5 L407.6,1169.8 L407.6,1169.8 L408.0,1175.7 L408.4,1182.1 L408.6,1185.6 L409.2,1195.6 L409.6,1201.2 L409.8,1202.2 L410.0,1205.5 L410.6,1209.4 L410.8,1210.3 L411.6,1213.3 L411.6,1213.3 L411.7,1213.8 L412.4,1219.4 L412.6,1221.6 L413.2,1229.4 L413.5,1233.4 L413.6,1234.9 L414.0,1239.9 L414.6,1245.8 L414.8,1247.2 L415.4,1249.1 L415.6,1250.9 L415.6,1250.9 L416.4,1252.3 L416.6,1252.5 L417.2,1252.8 L417.3,1250.0 L418.0,1253.0 L418.7,1255.9 L420.3,1250.3 L421.6,1255.3 L423.3,1255.9 L424.7,1250.1 L426.3,1251.2 L427.6,1253.7 L429.3,1250.1 L430.7,1267.9 L432.5,1265.0 L434.0,1266.0 L435.5,1255.0 L437.3,1267.2 L438.7,1256.8 L440.3,1268.1 L441.6,1256.6 L443.3,1255.1 L444.7,1270.9 L446.3,1258.7 L447.6,1269.9 L449.3,1271.0 L450.7,1257.0 L452.5,1267.1 L454.3,1252.1 L455.7,1268.9 L457.6,1256.7 L459.4,1256.5 L461.3,1269.0 L462.7,1255.0 L464.5,1257.1 L466.0,1258.0 L467.5,1266.2 L469.3,1258.6 L470.7,1267.4 L472.5,1270.1 L474.0,1264.5 L475.5,1272.6 L477.3,1264.9 L478.7,1277.1 L480.5,1265.4 L482.2,1275.1 L483.8,1263.5 L485.5,1270.7 L487.3,1274.1 L488.7,1261.9 L490.3,1273.5 L491.6,1266.8 L493.3,1265.6 L494.7,1274.4 L496.3,1275.0 L497.6,1271.1 L499.3,1272.5 L500.7,1280.5 L502.6,1272.1 L504.4,1278.0 L506.3,1279.4 L507.7,1270.6 L509.5,1279.4 L511.3,1272.6 L512.7,1281.4 L514.5,1275.1 L516.0,1277.9 L517.5,1272.4 L519.3,1278.6 L520.7,1271.4 L521.2,1275.1 L522.2,1275.1 L522.6,1278.5 L523.3,1275.1 L524.3,1274.9 L524.4,1272.9 L525.4,1274.4 L526.3,1276.2 L526.4,1273.3 L527.4,1271.1 L528.1,1271.0 L528.5,1268.0 L529.5,1264.4 L529.9,1262.6 L530.6,1261.4 L531.6,1260.3 L531.7,1260.3 L532.6,1261.5 L533.6,1263.6 L533.7,1264.6 L534.7,1268.3 L535.4,1272.0 L535.8,1271.6 L536.8,1273.9 L537.3,1271.6 L537.8,1275.1 L538.7,1279.1 L538.9,1276.1 L539.9,1276.9 L540.5,1280.1 L541.0,1277.5 L542.0,1278.0 L542.2,1276.8 L543.8,1280.7 L545.5,1282.6 L547.3,1276.6 L548.7,1285.4 L550.5,1278.2 L552.0,1288.3 L553.5,1280.5 L555.3,1280.9 L556.7,1292.1 L558.5,1289.1 L560.0,1280.5 L561.5,1286.9 L563.3,1289.3 L564.7,1279.7 L566.5,1290.9 L568.2,1285.4 L569.8,1285.7 L571.5,1291.9 L573.3,1286.8 L574.7,1297.2 L576.4,1285.7 L577.7,1295.1 L579.3,1295.1 L580.7,1283.9 L582.5,1288.3 L584.2,1292.2 L585.8,1286.0 L587.5,1294.4 L589.3,1286.6 L590.7,1295.4 L592.6,1286.7 L594.4,1295.9 L596.3,1299.9 L597.7,1282.1 L599.6,1297.8 L601.5,1286.4 L603.4,1295.7 L605.3,1283.1 L606.7,1297.9 L608.5,1285.9 L610.2,1288.8 L611.8,1290.0 L613.5,1288.5 L615.3,1296.5 L616.7,1288.5 L618.5,1294.2 L620.0,1289.5 L621.5,1295.3 L623.3,1286.8 L624.7,1297.2 L626.5,1288.3 L628.0,1294.5 L629.5,1285.3 L631.3,1293.2 L632.7,1282.8 L634.5,1292.3 L636.0,1286.9 L637.5,1291.9 L639.3,1288.1 L640.7,1293.9 L642.4,1289.2 L643.7,1295.7 L645.3,1290.5 L646.7,1298.5 L648.6,1289.5 L650.5,1298.2 L652.4,1287.7 L654.3,1298.1 L655.7,1285.9 L657.6,1296.5 L659.4,1292.5 L661.3,1294.2 L662.7,1300.8 L664.6,1297.8 L666.4,1290.8 L668.3,1298.1 L669.7,1286.9 L671.4,1298.1 L672.7,1290.3 L674.3,1285.0 L675.7,1299.0 L677.6,1290.1 L679.4,1291.4 L681.3,1297.6 L682.7,1290.4 L684.5,1296.5 L686.0,1292.1 L687.5,1294.9 L688.0,1293.2 L689.0,1293.1 L689.3,1288.6 L689.9,1292.9 L690.7,1297.0 L690.9,1292.9 L691.8,1292.7 L692.6,1289.0 L692.8,1291.9 L693.8,1290.4 L694.4,1289.7 L694.7,1288.0 L695.7,1285.3 L696.1,1283.6 L696.6,1283.0 L697.6,1282.3 L697.9,1282.4 L698.6,1283.5 L699.5,1286.1 L699.7,1287.0 L700.5,1289.2 L701.4,1290.1 L701.4,1292.0 L702.4,1294.0 L703.3,1298.4 L703.4,1295.2 L704.3,1295.8 L704.7,1292.4 L705.3,1296.1 L706.2,1296.3 L706.5,1299.6 L707.2,1296.4 L708.0,1293.6 L709.5,1298.2 L711.3,1291.8 L712.7,1302.2 L714.5,1294.5 L716.0,1301.2 L717.5,1298.4 L719.3,1300.6 L720.7,1293.4 L722.5,1299.1 L724.0,1293.2 L725.5,1300.4 L727.3,1292.8 L728.7,1303.2 L730.5,1294.4 L732.0,1296.9 L733.5,1301.3 L735.3,1303.4 L736.7,1294.6 L738.4,1294.6 L739.7,1302.1 L741.3,1292.6 L742.7,1301.4 L744.5,1294.5 L746.0,1301.5 L747.5,1304.2 L749.3,1296.7 L750.7,1306.3 L752.5,1297.6 L754.0,1302.6 L755.5,1295.5 L757.3,1299.4 L758.7,1290.6 L760.5,1299.4 L762.0,1299.7 L763.5,1294.0 L765.3,1294.6 L766.7,1303.4 L768.5,1296.6 L770.0,1302.4 L771.5,1302.4 L773.3,1305.1 L774.7,1292.9 L776.6,1300.6 L778.4,1290.2 L780.3,1287.9 L781.7,1299.1 L783.6,1290.2 L785.5,1293.5 L787.4,1300.3 L789.3,1303.4 L790.7,1294.6 L792.5,1300.7 L794.0,1295.8 L795.5,1294.8 L797.3,1292.8 L798.7,1303.2 L800.7,1293.8 L802.6,1301.5 L804.5,1295.3 L806.4,1294.7 L808.3,1304.9 L809.7,1290.1 L811.7,1293.0 L813.6,1302.9 L815.5,1295.7 L817.4,1303.6 L819.3,1294.8 L820.7,1305.2 L822.5,1297.7 L824.2,1295.9 L825.8,1304.4 L827.5,1297.3 L829.3,1307.2 L830.7,1296.8 L832.4,1303.0 L833.7,1301.5 L835.3,1291.9 L836.7,1303.1 L838.4,1303.2 L839.7,1294.6 L841.3,1308.0 L842.7,1295.0 L844.5,1306.8 L846.2,1298.6 L847.8,1304.0 L849.5,1298.7 L851.3,1296.8 L852.7,1307.2 L854.5,1300.2 L856.0,1304.1 L857.5,1299.2 L859.3,1307.4 L860.7,1298.6 L862.5,1305.1 L864.0,1304.0 L865.5,1300.6 L867.3,1298.4 L868.7,1305.6 L870.6,1299.6 L872.4,1305.0 L874.2,1305.1 L876.0,1298.4 L877.8,1304.0 L879.6,1299.6 L881.4,1303.4 L883.3,1305.6 L884.7,1298.4 L886.5,1305.8 L888.2,1300.2 L889.8,1299.1 L891.5,1307.4 L893.3,1298.8 L894.7,1309.2 L896.5,1306.3 L898.2,1297.8 L899.8,1305.5 L901.5,1297.0 L903.3,1303.4 L904.7,1294.6 L906.5,1300.9 L908.0,1294.9 L909.5,1298.2 L911.3,1289.9 L912.7,1301.1 L914.5,1302.3 L916.0,1295.0 L917.5,1303.2 L919.3,1305.2 L920.7,1294.8 L922.6,1303.7 L924.3,1298.4 L926.0,1304.7 L927.7,1307.7 L929.4,1297.4 L931.3,1296.9 L932.7,1309.1 L934.5,1297.2 L936.2,1302.9 L937.8,1297.6 L939.5,1301.1 L941.3,1301.4 L942.7,1292.6 L944.5,1294.7 L946.0,1304.2 L947.5,1298.4 L949.3,1296.8 L950.7,1307.2 L952.5,1297.9 L954.2,1300.7 L955.8,1304.3 L957.5,1301.1 L959.3,1306.5 L960.7,1298.5 L962.5,1304.7 L964.0,1298.3 L965.5,1305.0 L967.3,1294.8 L968.7,1305.2 L970.6,1296.5 L972.4,1302.0 L974.3,1303.2 L975.7,1292.8" stroke="#000000"/>
</g>
<g stroke="#000" stroke-width="3.2" stroke-linecap="butt">
<line stroke-linecap="butt" x1="105.0" y1="1.6" x2="977.0" y2="1.6"/>
<line stroke-linecap="butt" x1="105.0" y1="333.4" x2="977.0" y2="333.4"/>
<line stroke-linecap="butt" x1="105.0" y1="665.7" x2="977.0" y2="665.7"/>
<line stroke-linecap="butt" x1="105.0" y1="997.8" x2="977.0" y2="997.8"/>
<line stroke-linecap="butt" x1="105.0" y1="1329.9" x2="977.0" y2="1329.9"/>
<line stroke-linecap="butt" x1="106.5" y1="0" x2="106.5" y2="1331.4"/>
<line stroke-linecap="butt" x1="975.5" y1="0" x2="975.5" y2="1331.4"/>
<line x1="106.5" y1="333.4" x2="106.5" y2="316.9"/>
<line x1="106.5" y1="665.7" x2="106.5" y2="649.2"/>
<line x1="106.5" y1="997.8" x2="106.5" y2="981.3"/>
<line x1="106.5" y1="1329.9" x2="106.5" y2="1313.4"/>
<line x1="106.5" y1="1.6" x2="106.5" y2="18.1"/>
<line x1="168.6" y1="333.4" x2="168.6" y2="325.2"/>
<line x1="168.6" y1="665.7" x2="168.6" y2="657.5"/>
<line x1="168.6" y1="997.8" x2="168.6" y2="989.6"/>
<line x1="168.6" y1="1329.9" x2="168.6" y2="1321.7"/>
<line x1="168.6" y1="1.6" x2="168.6" y2="9.8"/>
<line x1="230.6" y1="333.4" x2="230.6" y2="316.9"/>
<line x1="230.6" y1="665.7" x2="230.6" y2="649.2"/>
<line x1="230.6" y1="997.8" x2="230.6" y2="981.3"/>
<line x1="230.6" y1="1329.9" x2="230.6" y2="1313.4"/>
<line x1="230.6" y1="1.6" x2="230.6" y2="18.1"/>
<line x1="292.6" y1="333.4" x2="292.6" y2="325.2"/>
<line x1="292.6" y1="665.7" x2="292.6" y2="657.5"/>
<line x1="292.6" y1="997.8" x2="292.6" y2="989.6"/>
<line x1="292.6" y1="1329.9" x2="292.6" y2="1321.7"/>
<line x1="292.6" y1="1.6" x2="292.6" y2="9.8"/>
<line x1="354.7" y1="333.4" x2="354.7" y2="316.9"/>
<line x1="354.7" y1="665.7" x2="354.7" y2="649.2"/>
<line x1="354.7" y1="997.8" x2="354.7" y2="981.3"/>
<line x1="354.7" y1="1329.9" x2="354.7" y2="1313.4"/>
<line x1="354.7" y1="1.6" x2="354.7" y2="18.1"/>
<line x1="416.8" y1="333.4" x2="416.8" y2="325.2"/>
<line x1="416.8" y1="665.7" x2="416.8" y2="657.5"/>
<line x1="416.8" y1="997.8" x2="416.8" y2="989.6"/>
<line x1="416.8" y1="1329.9" x2="416.8" y2="1321.7"/>
<line x1="416.8" y1="1.6" x2="416.8" y2="9.8"/>
<line x1="478.8" y1="333.4" x2="478.8" y2="316.9"/>
<line x1="478.8" y1="665.7" x2="478.8" y2="649.2"/>
<line x1="478.8" y1="997.8" x2="478.8" y2="981.3"/>
<line x1="478.8" y1="1329.9" x2="478.8" y2="1313.4"/>
<line x1="478.8" y1="1.6" x2="478.8" y2="18.1"/>
<line x1="540.9" y1="333.4" x2="540.9" y2="325.2"/>
<line x1="540.9" y1="665.7" x2="540.9" y2="657.5"/>
<line x1="540.9" y1="997.8" x2="540.9" y2="989.6"/>
<line x1="540.9" y1="1329.9" x2="540.9" y2="1321.7"/>
<line x1="540.9" y1="1.6" x2="540.9" y2="9.8"/>
<line x1="602.9" y1="333.4" x2="602.9" y2="316.9"/>
<line x1="602.9" y1="665.7" x2="602.9" y2="649.2"/>
<line x1="602.9" y1="997.8" x2="602.9" y2="981.3"/>
<line x1="602.9" y1="1329.9" x2="602.9" y2="1313.4"/>
<line x1="602.9" y1="1.6" x2="602.9" y2="18.1"/>
<line x1="665.0" y1="333.4" x2="665.0" y2="325.2"/>
<line x1="665.0" y1="665.7" x2="665.0" y2="657.5"/>
<line x1="665.0" y1="997.8" x2="665.0" y2="989.6"/>
<line x1="665.0" y1="1329.9" x2="665.0" y2="1321.7"/>
<line x1="665.0" y1="1.6" x2="665.0" y2="9.8"/>
<line x1="727.0" y1="333.4" x2="727.0" y2="316.9"/>
<line x1="727.0" y1="665.7" x2="727.0" y2="649.2"/>
<line x1="727.0" y1="997.8" x2="727.0" y2="981.3"/>
<line x1="727.0" y1="1329.9" x2="727.0" y2="1313.4"/>
<line x1="727.0" y1="1.6" x2="727.0" y2="18.1"/>
<line x1="789.0" y1="333.4" x2="789.0" y2="325.2"/>
<line x1="789.0" y1="665.7" x2="789.0" y2="657.5"/>
<line x1="789.0" y1="997.8" x2="789.0" y2="989.6"/>
<line x1="789.0" y1="1329.9" x2="789.0" y2="1321.7"/>
<line x1="789.0" y1="1.6" x2="789.0" y2="9.8"/>
<line x1="851.1" y1="333.4" x2="851.1" y2="316.9"/>
<line x1="851.1" y1="665.7" x2="851.1" y2="649.2"/>
<line x1="851.1" y1="997.8" x2="851.1" y2="981.3"/>
<line x1="851.1" y1="1329.9" x2="851.1" y2="1313.4"/>
<line x1="851.1" y1="1.6" x2="851.1" y2="18.1"/>
<line x1="913.1" y1="333.4" x2="913.1" y2="325.2"/>
<line x1="913.1" y1="665.7" x2="913.1" y2="657.5"/>
<line x1="913.1" y1="997.8" x2="913.1" y2="989.6"/>
<line x1="913.1" y1="1329.9" x2="913.1" y2="1321.7"/>
<line x1="913.1" y1="1.6" x2="913.1" y2="9.8"/>
<line x1="975.2" y1="333.4" x2="975.2" y2="316.9"/>
<line x1="975.2" y1="665.7" x2="975.2" y2="649.2"/>
<line x1="975.2" y1="997.8" x2="975.2" y2="981.3"/>
<line x1="975.2" y1="1329.9" x2="975.2" y2="1313.4"/>
<line x1="975.2" y1="1.6" x2="975.2" y2="18.1"/>
<line x1="106.5" y1="43.0" x2="114.7" y2="43.0"/>
<line x1="975.5" y1="43.0" x2="967.3" y2="43.0"/>
<line x1="106.5" y1="84.6" x2="123.0" y2="84.6"/>
<line x1="975.5" y1="84.6" x2="959.0" y2="84.6"/>
<line x1="106.5" y1="126.1" x2="114.7" y2="126.1"/>
<line x1="975.5" y1="126.1" x2="967.3" y2="126.1"/>
<line x1="106.5" y1="167.6" x2="123.0" y2="167.6"/>
<line x1="975.5" y1="167.6" x2="959.0" y2="167.6"/>
<line x1="106.5" y1="209.1" x2="114.7" y2="209.1"/>
<line x1="975.5" y1="209.1" x2="967.3" y2="209.1"/>
<line x1="106.5" y1="250.7" x2="123.0" y2="250.7"/>
<line x1="975.5" y1="250.7" x2="959.0" y2="250.7"/>
<line x1="106.5" y1="292.2" x2="114.7" y2="292.2"/>
<line x1="975.5" y1="292.2" x2="967.3" y2="292.2"/>
<line x1="106.5" y1="340.9" x2="123.0" y2="340.9"/>
<line x1="975.5" y1="340.9" x2="959.0" y2="340.9"/>
<line x1="106.5" y1="382.7" x2="114.7" y2="382.7"/>
<line x1="975.5" y1="382.7" x2="967.3" y2="382.7"/>
<line x1="106.5" y1="424.5" x2="123.0" y2="424.5"/>
<line x1="975.5" y1="424.5" x2="959.0" y2="424.5"/>
<line x1="106.5" y1="466.3" x2="114.7" y2="466.3"/>
<line x1="975.5" y1="466.3" x2="967.3" y2="466.3"/>
<line x1="106.5" y1="508.1" x2="123.0" y2="508.1"/>
<line x1="975.5" y1="508.1" x2="959.0" y2="508.1"/>
<line x1="106.5" y1="549.9" x2="114.7" y2="549.9"/>
<line x1="975.5" y1="549.9" x2="967.3" y2="549.9"/>
<line x1="106.5" y1="591.7" x2="123.0" y2="591.7"/>
<line x1="975.5" y1="591.7" x2="959.0" y2="591.7"/>
<line x1="106.5" y1="633.5" x2="114.7" y2="633.5"/>
<line x1="975.5" y1="633.5" x2="967.3" y2="633.5"/>
<line x1="106.5" y1="681.0" x2="114.7" y2="681.0"/>
<line x1="975.5" y1="681.0" x2="967.3" y2="681.0"/>
<line x1="106.5" y1="722.7" x2="123.0" y2="722.7"/>
<line x1="975.5" y1="722.7" x2="959.0" y2="722.7"/>
<line x1="106.5" y1="764.4" x2="114.7" y2="764.4"/>
<line x1="975.5" y1="764.4" x2="967.3" y2="764.4"/>
<line x1="106.5" y1="806.1" x2="123.0" y2="806.1"/>
<line x1="975.5" y1="806.1" x2="959.0" y2="806.1"/>
<line x1="106.5" y1="847.8" x2="114.7" y2="847.8"/>
<line x1="975.5" y1="847.8" x2="967.3" y2="847.8"/>
<line x1="106.5" y1="889.5" x2="123.0" y2="889.5"/>
<line x1="975.5" y1="889.5" x2="959.0" y2="889.5"/>
<line x1="106.5" y1="931.2" x2="114.7" y2="931.2"/>
<line x1="975.5" y1="931.2" x2="967.3" y2="931.2"/>
<line x1="106.5" y1="972.9" x2="123.0" y2="972.9"/>
<line x1="975.5" y1="972.9" x2="959.0" y2="972.9"/>
<line x1="106.5" y1="1005.3" x2="123.0" y2="1005.3"/>
<line x1="975.5" y1="1005.3" x2="959.0" y2="1005.3"/>
<line x1="106.5" y1="1045.9" x2="114.7" y2="1045.9"/>
<line x1="975.5" y1="1045.9" x2="967.3" y2="1045.9"/>
<line x1="106.5" y1="1086.5" x2="123.0" y2="1086.5"/>
<line x1="975.5" y1="1086.5" x2="959.0" y2="1086.5"/>
<line x1="106.5" y1="1127.0" x2="114.7" y2="1127.0"/>
<line x1="975.5" y1="1127.0" x2="967.3" y2="1127.0"/>
<line x1="106.5" y1="1167.6" x2="123.0" y2="1167.6"/>
<line x1="975.5" y1="1167.6" x2="959.0" y2="1167.6"/>
<line x1="106.5" y1="1208.2" x2="114.7" y2="1208.2"/>
<line x1="975.5" y1="1208.2" x2="967.3" y2="1208.2"/>
<line x1="106.5" y1="1248.8" x2="123.0" y2="1248.8"/>
<line x1="975.5" y1="1248.8" x2="959.0" y2="1248.8"/>
<line x1="106.5" y1="1289.4" x2="114.7" y2="1289.4"/>
<line x1="975.5" y1="1289.4" x2="967.3" y2="1289.4"/>
</g>
<rect x="698.1" y="3.8" width="271.9" height="61.0" fill="#fff" stroke="#000" stroke-width="1.70"/>
<line x1="704.4" y1="34.3" x2="803.5" y2="34.3" stroke="#00ff00" stroke-width="4.8" stroke-linecap="round"/>
<text x="814.5" y="0" class="leg" transform="translate(0,50.0) scale(1,1.045)">459 nm</text>
<rect x="698.1" y="337.5" width="271.9" height="61.4" fill="#fff" stroke="#000" stroke-width="1.70"/>
<line x1="704.4" y1="368.2" x2="803.5" y2="368.2" stroke="#0000ff" stroke-width="4.8" stroke-linecap="round"/>
<text x="814.5" y="0" class="leg" transform="translate(0,383.7) scale(1,1.045)">392 nm</text>
<rect x="698.1" y="668.2" width="271.9" height="61.4" fill="#fff" stroke="#000" stroke-width="1.70"/>
<line x1="704.4" y1="698.9" x2="803.5" y2="698.9" stroke="#ff0000" stroke-width="4.8" stroke-linecap="round"/>
<text x="814.5" y="0" class="leg" transform="translate(0,714.4) scale(1,1.045)">3&#8199;7 nm</text>
<path d="M788,0 L608,0 L608,1147 Q543,1085 437,1023 Q331,961 247,930 L247,1104 Q398,1175 511,1276 Q624,1377 671,1472 L788,1472 Z" fill="#000" transform="translate(0,714.4) scale(1,1.045) translate(839.53,0) scale(0.02197,-0.02103)"/>
<rect x="698.1" y="1000.0" width="271.9" height="61.3" fill="#fff" stroke="#000" stroke-width="1.70"/>
<line x1="704.4" y1="1030.7" x2="803.5" y2="1030.7" stroke="#000000" stroke-width="4.8" stroke-linecap="round"/>
<text x="814.5" y="0" class="leg" transform="translate(0,1046.2) scale(1,1.045)">263 nm</text>
<text class="pl" style="font-size:31.5px" transform="translate(367.2,53.0) rotate(-90)" x="0" y="0" text-anchor="middle">(222)</text>
<text class="pl" style="font-size:31.0px" transform="translate(392.6,111.4) rotate(-90)" x="0" y="0" text-anchor="middle">(224)</text>
<text class="pl" style="font-size:31.0px" transform="translate(425.0,111.9) rotate(-90)" x="0" y="0" text-anchor="middle">(400)</text>
<text class="pl" style="font-size:36.0px" transform="translate(555.0,187.6) rotate(-90)" x="0" y="0" text-anchor="middle">(422)</text>
<text class="pl" style="font-size:36.0px" transform="translate(864.5,231.0) rotate(-90)" x="0" y="0" text-anchor="middle">(73&#8199;)</text>
<path d="M806,0 L525,0 L525,1059 Q371,915 130,846 L130,1101 Q272,1150 401,1250 Q530,1350 578,1466 L806,1466 Z" fill="#000" stroke="#000" stroke-width="25.6" stroke-linejoin="round" transform="translate(864.5,231.0) rotate(-90) translate(10.01,0) scale(0.01758,-0.01689)"/>
<text class="tl" transform="translate(107.0,1386.5) scale(1,1.075)" x="0" y="0" text-anchor="middle">&#8199;0</text>
<path d="M806,0 L525,0 L525,1059 Q371,915 130,846 L130,1101 Q272,1150 401,1250 Q530,1350 578,1466 L806,1466 Z" fill="#000" transform="translate(107.0,1386.5) scale(1,1.075) translate(-26.97,0) scale(0.02368,-0.02276)"/>
<text class="tl" transform="translate(231.1,1386.5) scale(1,1.075)" x="0" y="0" text-anchor="middle">20</text>
<text class="tl" transform="translate(355.2,1386.5) scale(1,1.075)" x="0" y="0" text-anchor="middle">30</text>
<text class="tl" transform="translate(479.3,1386.5) scale(1,1.075)" x="0" y="0" text-anchor="middle">40</text>
<text class="tl" transform="translate(603.4,1386.5) scale(1,1.075)" x="0" y="0" text-anchor="middle">50</text>
<text class="tl" transform="translate(727.5,1386.5) scale(1,1.075)" x="0" y="0" text-anchor="middle">60</text>
<text class="tl" transform="translate(851.6,1386.5) scale(1,1.075)" x="0" y="0" text-anchor="middle">70</text>
<text class="tl" transform="translate(975.7,1386.5) scale(1,1.075)" x="0" y="0" text-anchor="middle">80</text>
<text class="ti" x="398.4" y="1472.0">2 &#952; (Degrees)</text>
<text class="ti" transform="translate(38.7,708.6) rotate(-90)" x="0" y="0">Intensity (a.u)</text>
</svg>
</body></html>
